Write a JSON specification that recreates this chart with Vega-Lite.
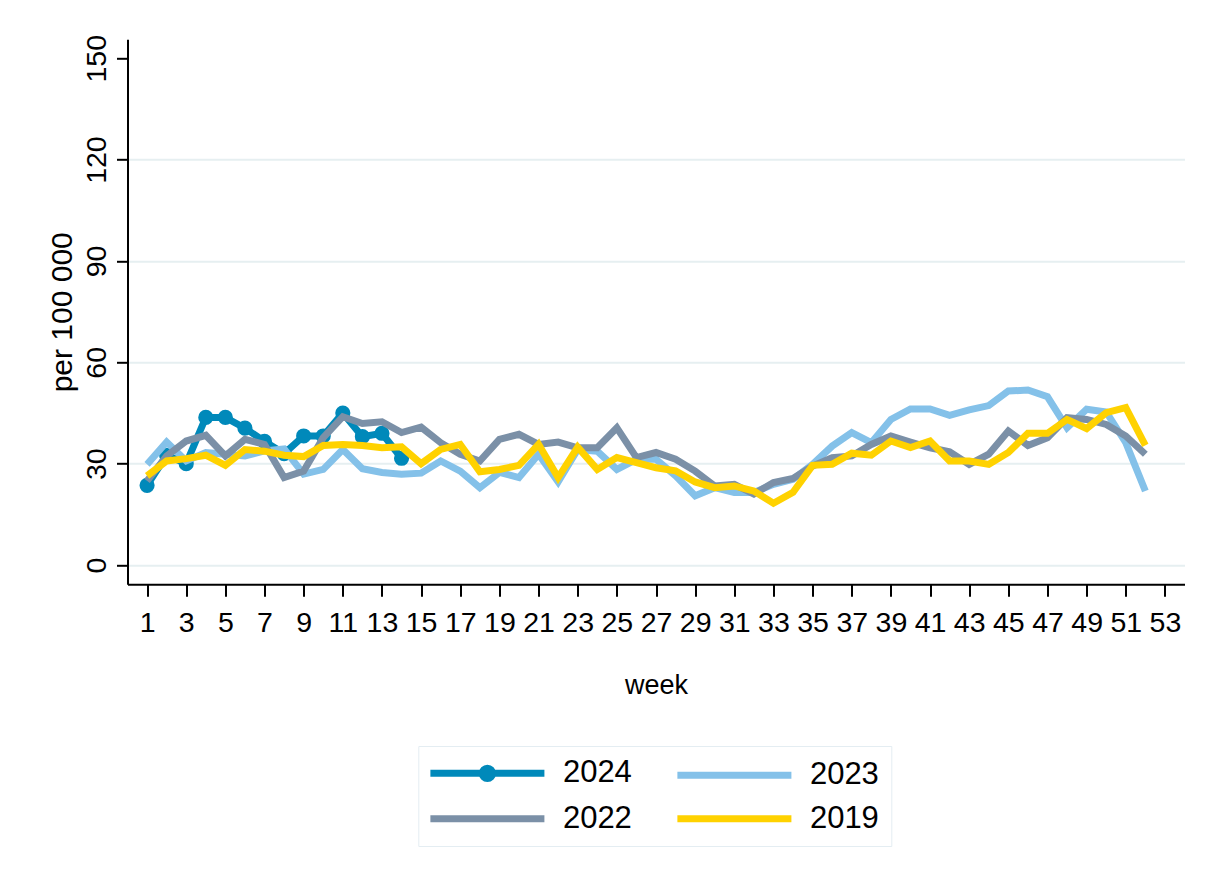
{
  "$schema": "https://vega.github.io/schema/vega-lite/v6.json",
  "width": 1057,
  "height": 545,
  "autosize": {"type": "none"},
  "padding": {"left": 127.5, "top": 39.3, "right": 23.5, "bottom": 294.7},
  "background": "white",
  "config": {
    "view": {"stroke": null},
    "font": "Liberation Sans",
    "axis": {
      "domainColor": "#000000",
      "domainWidth": 2,
      "tickColor": "#000000",
      "tickWidth": 2,
      "labelColor": "#000000",
      "titleColor": "#000000",
      "labelFont": "Liberation Sans",
      "titleFont": "Liberation Sans",
      "titleFontWeight": "normal"
    }
  },
  "data": {
    "values": [
      {"w":1,"s":"2024","v":23.6},{"w":2,"s":"2024","v":32.5},{"w":3,"s":"2024","v":30.0},{"w":4,"s":"2024","v":43.7},{"w":5,"s":"2024","v":43.7},{"w":6,"s":"2024","v":40.5},{"w":7,"s":"2024","v":36.6},{"w":8,"s":"2024","v":33.0},{"w":9,"s":"2024","v":38.2},{"w":10,"s":"2024","v":38.2},{"w":11,"s":"2024","v":45.0},{"w":12,"s":"2024","v":38.0},{"w":13,"s":"2024","v":39.0},{"w":14,"s":"2024","v":31.6},
      {"w":1,"s":"2023","v":29.8},{"w":2,"s":"2023","v":36.4},{"w":3,"s":"2023","v":30.8},{"w":4,"s":"2023","v":33.3},{"w":5,"s":"2023","v":32.8},{"w":6,"s":"2023","v":32.3},{"w":7,"s":"2023","v":33.8},{"w":8,"s":"2023","v":34.4},{"w":9,"s":"2023","v":26.9},{"w":10,"s":"2023","v":28.3},{"w":11,"s":"2023","v":34.2},{"w":12,"s":"2023","v":28.5},{"w":13,"s":"2023","v":27.4},{"w":14,"s":"2023","v":26.9},{"w":15,"s":"2023","v":27.2},{"w":16,"s":"2023","v":30.8},{"w":17,"s":"2023","v":27.8},{"w":18,"s":"2023","v":22.9},{"w":19,"s":"2023","v":27.4},{"w":20,"s":"2023","v":25.9},{"w":21,"s":"2023","v":32.8},{"w":22,"s":"2023","v":24.6},{"w":23,"s":"2023","v":34.2},{"w":24,"s":"2023","v":33.7},{"w":25,"s":"2023","v":28.3},{"w":26,"s":"2023","v":31.3},{"w":27,"s":"2023","v":31.3},{"w":28,"s":"2023","v":26.4},{"w":29,"s":"2023","v":20.5},{"w":30,"s":"2023","v":22.9},{"w":31,"s":"2023","v":21.5},{"w":32,"s":"2023","v":21.5},{"w":33,"s":"2023","v":23.9},{"w":34,"s":"2023","v":25.4},{"w":35,"s":"2023","v":29.8},{"w":36,"s":"2023","v":35.2},{"w":37,"s":"2023","v":39.2},{"w":38,"s":"2023","v":36.2},{"w":39,"s":"2023","v":43.1},{"w":40,"s":"2023","v":46.2},{"w":41,"s":"2023","v":46.2},{"w":42,"s":"2023","v":44.3},{"w":43,"s":"2023","v":45.9},{"w":44,"s":"2023","v":47.2},{"w":45,"s":"2023","v":51.5},{"w":46,"s":"2023","v":51.8},{"w":47,"s":"2023","v":49.8},{"w":48,"s":"2023","v":40.6},{"w":49,"s":"2023","v":46.1},{"w":50,"s":"2023","v":45.3},{"w":51,"s":"2023","v":36.2},{"w":52,"s":"2023","v":21.9},
      {"w":1,"s":"2022","v":24.9},{"w":2,"s":"2022","v":32.3},{"w":3,"s":"2022","v":36.7},{"w":4,"s":"2022","v":38.4},{"w":5,"s":"2022","v":32.3},{"w":6,"s":"2022","v":37.2},{"w":7,"s":"2022","v":35.7},{"w":8,"s":"2022","v":25.9},{"w":9,"s":"2022","v":27.8},{"w":10,"s":"2022","v":37.7},{"w":11,"s":"2022","v":43.9},{"w":12,"s":"2022","v":41.9},{"w":13,"s":"2022","v":42.4},{"w":14,"s":"2022","v":39.2},{"w":15,"s":"2022","v":40.8},{"w":16,"s":"2022","v":36.2},{"w":17,"s":"2022","v":32.8},{"w":18,"s":"2022","v":30.8},{"w":19,"s":"2022","v":37.2},{"w":20,"s":"2022","v":38.7},{"w":21,"s":"2022","v":35.7},{"w":22,"s":"2022","v":36.4},{"w":23,"s":"2022","v":34.7},{"w":24,"s":"2022","v":34.7},{"w":25,"s":"2022","v":40.6},{"w":26,"s":"2022","v":31.8},{"w":27,"s":"2022","v":33.3},{"w":28,"s":"2022","v":31.3},{"w":29,"s":"2022","v":27.8},{"w":30,"s":"2022","v":23.4},{"w":31,"s":"2022","v":23.9},{"w":32,"s":"2022","v":21.0},{"w":33,"s":"2022","v":24.4},{"w":34,"s":"2022","v":25.6},{"w":35,"s":"2022","v":29.3},{"w":36,"s":"2022","v":31.8},{"w":37,"s":"2022","v":32.3},{"w":38,"s":"2022","v":35.7},{"w":39,"s":"2022","v":38.2},{"w":40,"s":"2022","v":36.4},{"w":41,"s":"2022","v":34.7},{"w":42,"s":"2022","v":33.5},{"w":43,"s":"2022","v":29.8},{"w":44,"s":"2022","v":32.8},{"w":45,"s":"2022","v":39.7},{"w":46,"s":"2022","v":35.4},{"w":47,"s":"2022","v":37.7},{"w":48,"s":"2022","v":43.6},{"w":49,"s":"2022","v":43.1},{"w":50,"s":"2022","v":41.6},{"w":51,"s":"2022","v":38.2},{"w":52,"s":"2022","v":32.8},
      {"w":1,"s":"2019","v":26.4},{"w":2,"s":"2019","v":30.8},{"w":3,"s":"2019","v":31.5},{"w":4,"s":"2019","v":32.5},{"w":5,"s":"2019","v":29.5},{"w":6,"s":"2019","v":34.2},{"w":7,"s":"2019","v":33.7},{"w":8,"s":"2019","v":32.5},{"w":9,"s":"2019","v":32.1},{"w":10,"s":"2019","v":35.4},{"w":11,"s":"2019","v":35.7},{"w":12,"s":"2019","v":35.4},{"w":13,"s":"2019","v":34.7},{"w":14,"s":"2019","v":35.0},{"w":15,"s":"2019","v":30.0},{"w":16,"s":"2019","v":34.2},{"w":17,"s":"2019","v":35.7},{"w":18,"s":"2019","v":27.6},{"w":19,"s":"2019","v":28.3},{"w":20,"s":"2019","v":29.5},{"w":21,"s":"2019","v":35.7},{"w":22,"s":"2019","v":25.9},{"w":23,"s":"2019","v":34.9},{"w":24,"s":"2019","v":28.3},{"w":25,"s":"2019","v":31.8},{"w":26,"s":"2019","v":30.3},{"w":27,"s":"2019","v":28.8},{"w":28,"s":"2019","v":27.9},{"w":29,"s":"2019","v":24.6},{"w":30,"s":"2019","v":22.9},{"w":31,"s":"2019","v":23.4},{"w":32,"s":"2019","v":21.9},{"w":33,"s":"2019","v":18.3},{"w":34,"s":"2019","v":21.5},{"w":35,"s":"2019","v":29.5},{"w":36,"s":"2019","v":29.8},{"w":37,"s":"2019","v":33.1},{"w":38,"s":"2019","v":32.5},{"w":39,"s":"2019","v":36.7},{"w":40,"s":"2019","v":34.8},{"w":41,"s":"2019","v":36.7},{"w":42,"s":"2019","v":30.8},{"w":43,"s":"2019","v":30.8},{"w":44,"s":"2019","v":29.8},{"w":45,"s":"2019","v":33.3},{"w":46,"s":"2019","v":39.0},{"w":47,"s":"2019","v":39.0},{"w":48,"s":"2019","v":43.1},{"w":49,"s":"2019","v":40.4},{"w":50,"s":"2019","v":45.1},{"w":51,"s":"2019","v":46.6},{"w":52,"s":"2019","v":35.4}
    ]
  },
  "encoding": {
    "x": {
      "field": "w", "type": "quantitative",
      "scale": {"domain": [0, 54], "nice": false, "zero": false},
      "axis": {
        "title": "week",
        "values": [1,3,5,7,9,11,13,15,17,19,21,23,25,27,29,31,33,35,37,39,41,43,45,47,49,51,53],
        "grid": false,
        "tickSize": 12,
        "labelFontSize": 28.5,
        "labelBaseline": "top",
        "labelPadding": 12.5,
        "labelFlush": false,
        "labelOverlap": false,
        "titleFontSize": 27,
        "titleBaseline": "alphabetic",
        "titleY": 109
      }
    },
    "y": {
      "field": "v", "type": "quantitative",
      "scale": {"domain": [-5.7, 155.6], "nice": false, "zero": false},
      "axis": {
        "title": "per 100 000",
        "values": [0, 30, 60, 90, 120, 150],
        "grid": true,
        "gridColor": "#e6eff1",
        "gridWidth": 2,
        "gridOpacity": {"condition": {"test": "datum.value === 150", "value": 0}, "value": 1},
        "tickSize": 11,
        "labelFontSize": 28.5,
        "labelAngle": 270,
        "labelAlign": "center",
        "labelBaseline": "alphabetic",
        "labelPadding": 11.5,
        "labelFlush": false,
        "labelOverlap": false,
        "titleFontSize": 30,
        "titleAngle": 270,
        "titleBaseline": "alphabetic",
        "titleAlign": "center",
        "titleX": -55.8,
        "titleY": 272.5
      }
    },
    "color": {
      "field": "s", "type": "nominal",
      "scale": {"domain": ["2024", "2023", "2022", "2019"], "range": ["#0089ba", "#84c1e9", "#7b90a7", "#ffd200"]},
      "legend": {
        "title": null,
        "orient": "none",
        "legendX": 290.8,
        "legendY": 706.7,
        "columns": 2,
        "direction": "horizontal",
        "symbolType": "M-5,0H5",
        "symbolSize": 520,
        "symbolStrokeWidth": 7,
        "symbolOffset": 42,
        "labelOffset": 60,
        "labelFontSize": 31,
        "labelFont": "Liberation Sans",
        "labelColor": "#000000",
        "labelBaseline": "middle",
        "columnPadding": 31,
        "rowPadding": 9.7,
        "padding": 11.6,
        "strokeColor": "#e4edf2",
        "fillColor": "#ffffff",
        "encode": {
          "symbols": {
            "update": {
              "shape": {"signal": "datum.label === '2024' ? 'M-5,0H5M-0.45,0A0.45,0.45 0 1,0 0.45,0A0.45,0.45 0 1,0 -0.45,0Z' : 'M-5,0H5'"},
              "fill": {"signal": "datum.label === '2024' ? '#0089ba' : 'transparent'"},
              "opacity": {"value": 1}
            }
          }
        }
      }
    }
  },
  "layer": [
    {"transform": [{"filter": "datum.s === '2024'"}], "mark": {"type": "line", "strokeWidth": 7}},
    {"transform": [{"filter": "datum.s === '2024'"}], "mark": {"type": "point", "filled": true, "size": 230, "opacity": 1}},
    {"transform": [{"filter": "datum.s === '2023'"}], "mark": {"type": "line", "strokeWidth": 7}},
    {"transform": [{"filter": "datum.s === '2022'"}], "mark": {"type": "line", "strokeWidth": 7}},
    {"transform": [{"filter": "datum.s === '2019'"}], "mark": {"type": "line", "strokeWidth": 7}}
  ]
}
